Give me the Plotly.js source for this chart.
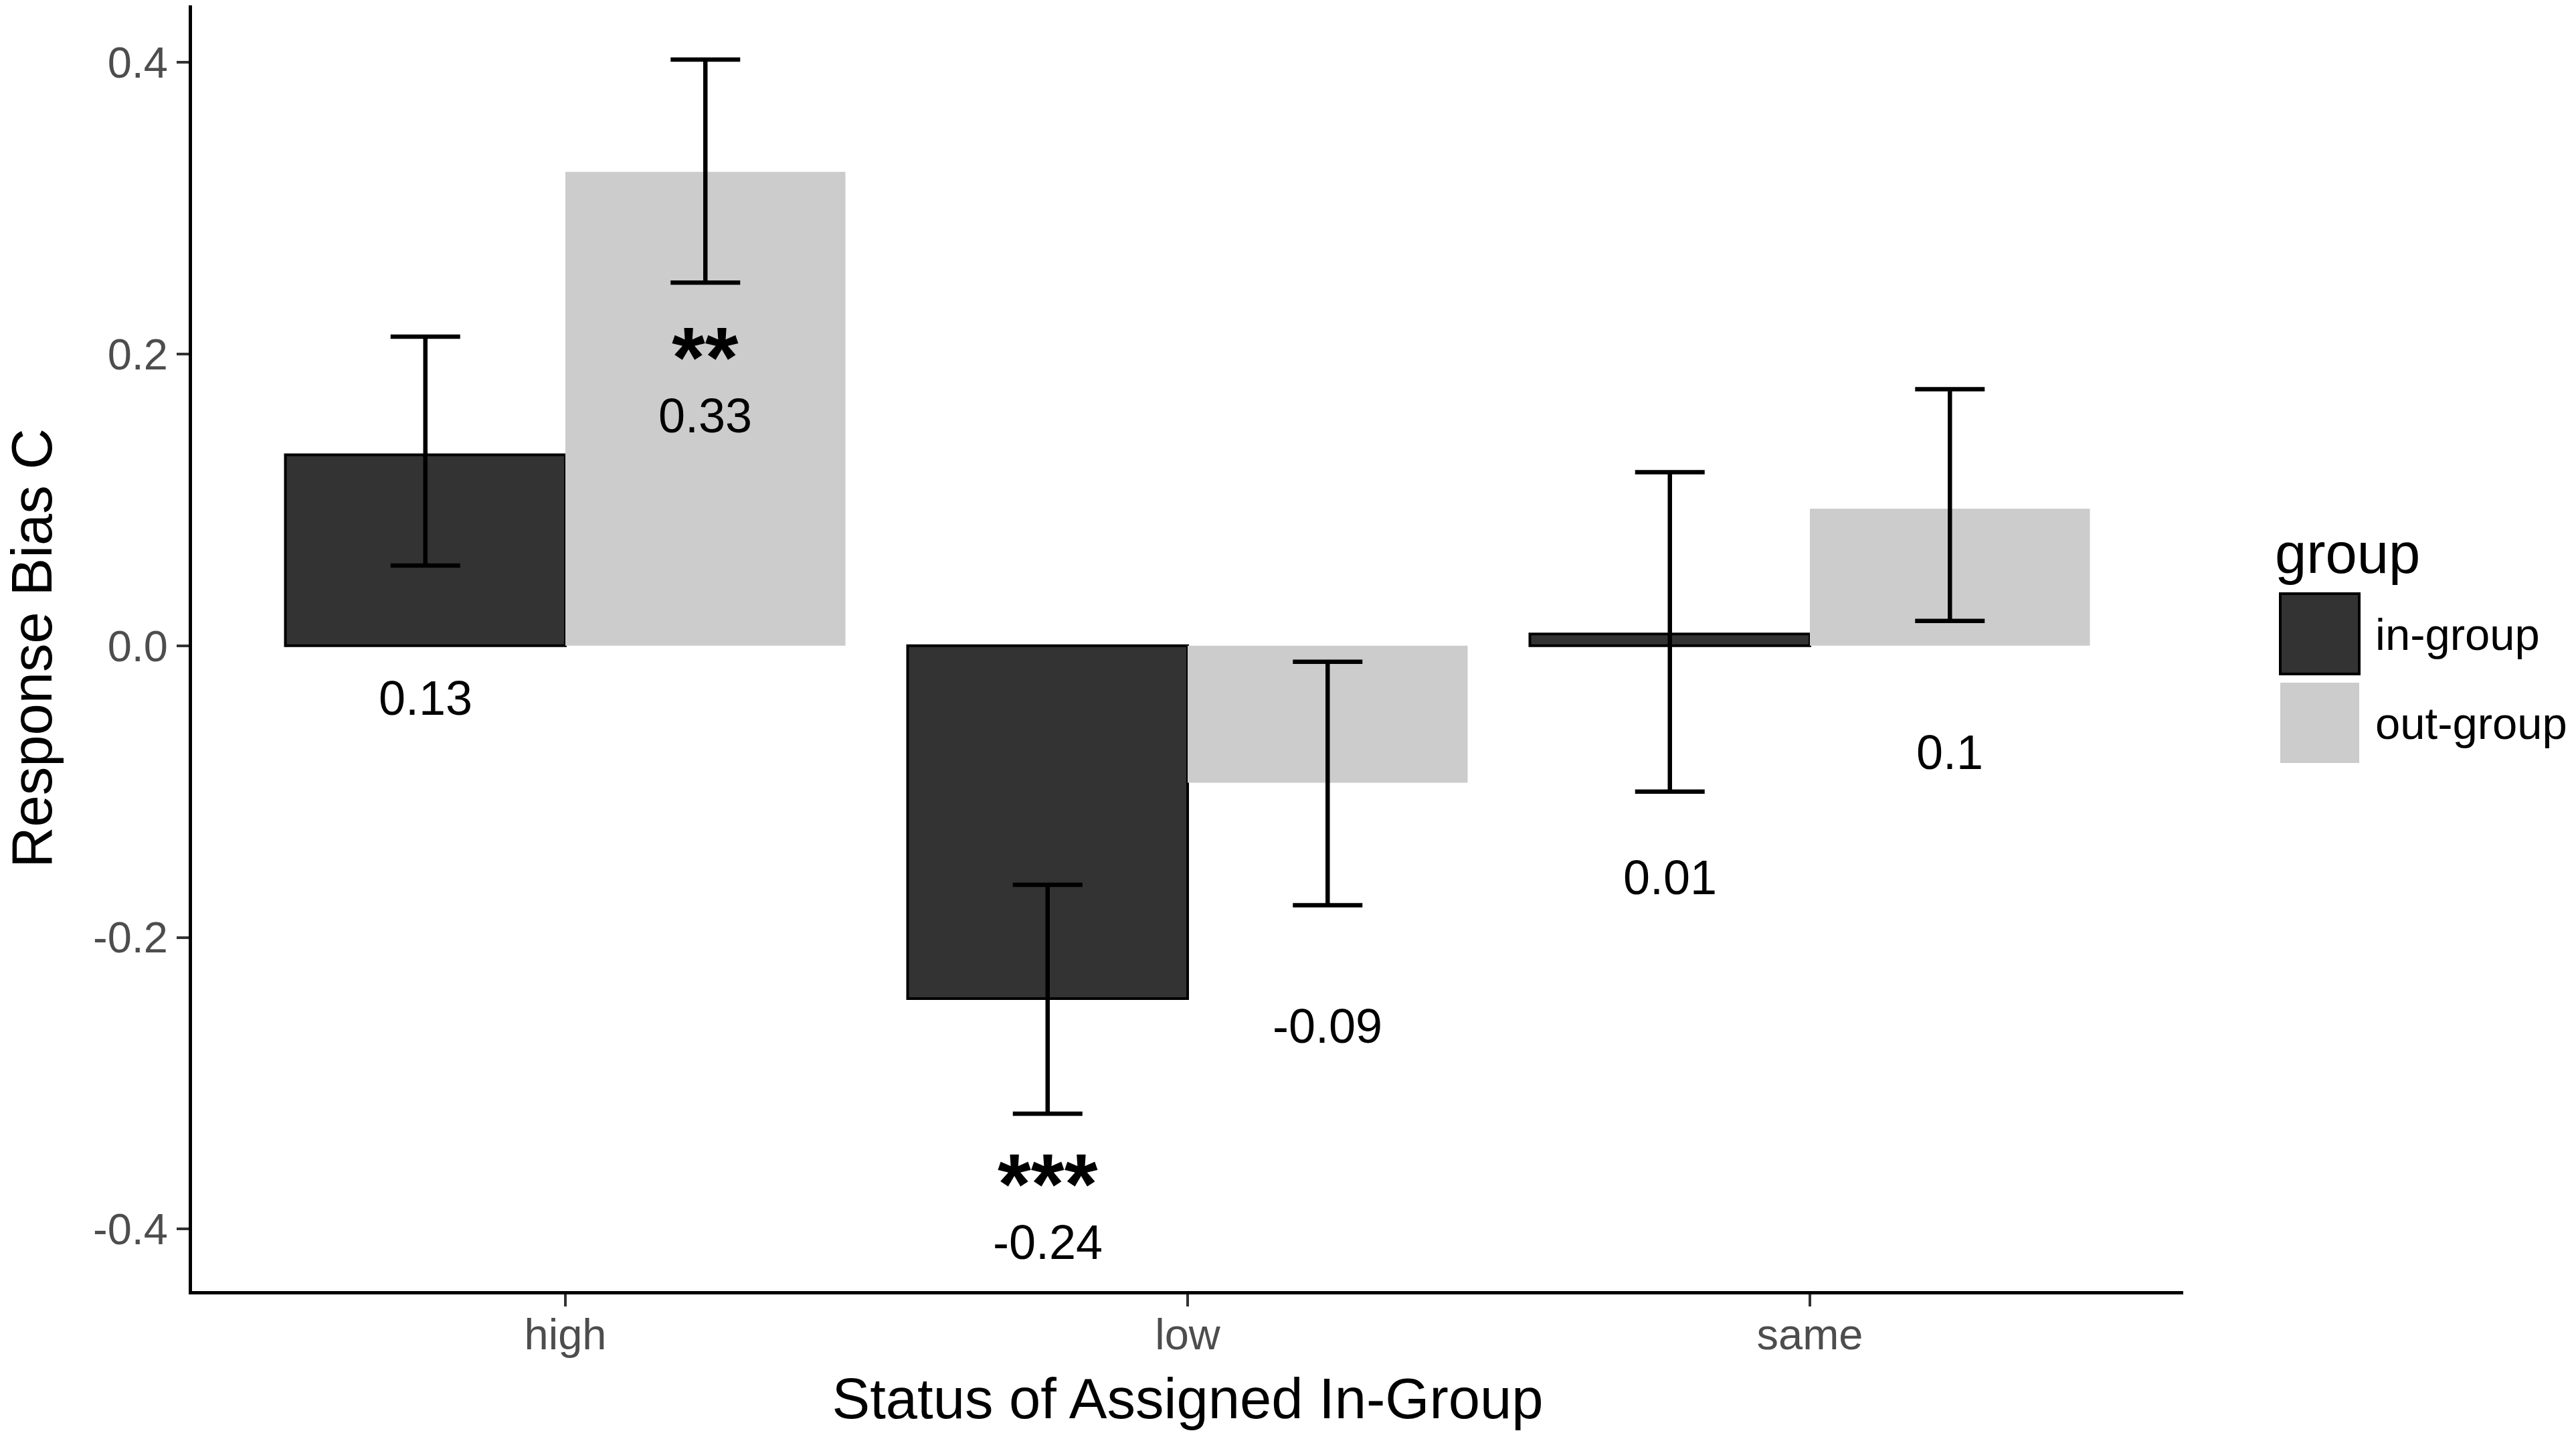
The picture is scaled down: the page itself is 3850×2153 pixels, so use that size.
<!DOCTYPE html>
<html>
<head>
<meta charset="utf-8">
<script src="https://cdn.plot.ly/plotly-3.0.1.min.js"></script>
<style>
  html, body { margin: 0; padding: 0; background: #fff; }
  #chart { width: 3850px; height: 2153px; }
</style>
</head>
<body>
<div id="chart"></div>
<script>
// values
const categories = ['high', 'low', 'same'];
const groupNames = ['in-group', 'out-group'];

const inGroupMean = [0.131, -0.242, 0.008];
const inGroupUpper = [0.212, -0.164, 0.119];
const inGroupLower = [0.055, -0.321, -0.100];
const inGroupLabels = ['0.13', '-0.24', '0.01'];
const inGroupStars = ['', '***', ''];

const outGroupMean = [0.325, -0.094, 0.094];
const outGroupUpper = [0.402, -0.011, 0.176];
const outGroupLower = [0.249, -0.178, 0.017];
const outGroupLabels = ['0.33', '-0.09', '0.1'];
const outGroupStars = ['**', '', ''];

const yTicks = [-0.4, -0.2, 0.0, 0.2, 0.4];

const W = 3850, H = 2153;
const margin = {l: 287, r: 587, t: 8, b: 224};
const plotW = W - margin.l - margin.r;
const plotH = H - margin.t - margin.b;
const font = 'Liberation Sans, Arial, sans-serif';
const darkFill = '#333333';
const lightFill = '#cccccc';
const barWidth = 0.45;

function pxX(x) { return (x - margin.l) / plotW; }
function pxY(y) { return (H - margin.b - y) / plotH; }

function errorBars(mean, upper, lower) {
  return {
    type: 'data',
    symmetric: false,
    array: mean.map((m, i) => upper[i] - m),
    arrayminus: mean.map((m, i) => m - lower[i]),
    color: '#000',
    thickness: 6.5,
    width: 52
  };
}

const traces = [
  {
    type: 'bar',
    name: groupNames[0],
    x: categories,
    y: inGroupMean,
    marker: {color: darkFill, line: {color: '#000', width: 4}},
    error_y: errorBars(inGroupMean, inGroupUpper, inGroupLower),
    hoverinfo: 'x+y'
  },
  {
    type: 'bar',
    name: groupNames[1],
    x: categories,
    y: outGroupMean,
    marker: {color: lightFill, line: {width: 0}},
    error_y: errorBars(outGroupMean, outGroupUpper, outGroupLower),
    hoverinfo: 'x+y'
  }
];

// value labels sit a fixed distance below each mean, stars just above them
const labelDrop = 0.167;
const starLift = 0.04;
const annotations = [];
function addLabels(mean, labels, stars, shift) {
  mean.forEach((m, i) => {
    annotations.push({
      x: i + shift, y: m - labelDrop, xref: 'x', yref: 'y',
      text: labels[i], showarrow: false,
      font: {family: font, size: 72, color: '#000'}
    });
    if (stars[i]) {
      // anchor on the box bottom so the tall star box clears the number below
      annotations.push({
        x: i + shift, y: m - labelDrop + starLift, xref: 'x', yref: 'y',
        text: '<b>' + stars[i] + '</b>', showarrow: false, yanchor: 'middle',
        font: {family: font, size: 128, color: '#000'}
      });
    }
  });
}
addLabels(inGroupMean, inGroupLabels, inGroupStars, -barWidth / 2);
addLabels(outGroupMean, outGroupLabels, outGroupStars, barWidth / 2);

// legend drawn by hand so the keys can be as large as the original
const keyLeft = 3408, keyRight = 3526;
const keyRows = [[887, 1007], [1020, 1140]];
const shapes = [
  {type: 'rect', xref: 'paper', yref: 'paper',
   x0: pxX(keyLeft), x1: pxX(keyRight), y0: pxY(keyRows[0][1]), y1: pxY(keyRows[0][0]),
   fillcolor: darkFill, line: {color: '#000', width: 4}},
  {type: 'rect', xref: 'paper', yref: 'paper',
   x0: pxX(keyLeft), x1: pxX(keyRight), y0: pxY(keyRows[1][1]), y1: pxY(keyRows[1][0]),
   fillcolor: lightFill, line: {width: 0}}
];
annotations.push({
  xref: 'paper', yref: 'paper', x: pxX(3398), y: pxY(826),
  xanchor: 'left', yanchor: 'middle', showarrow: false,
  text: 'group', font: {family: font, size: 85, color: '#000'}
});
groupNames.forEach((g, i) => {
  annotations.push({
    xref: 'paper', yref: 'paper', x: pxX(3548), y: pxY((keyRows[i][0] + keyRows[i][1]) / 2),
    xanchor: 'left', yanchor: 'middle', showarrow: false,
    text: g, font: {family: font, size: 67, color: '#000'}
  });
});

const layout = {
  width: W,
  height: H,
  margin: margin,
  paper_bgcolor: '#fff',
  plot_bgcolor: '#fff',
  barmode: 'group',
  bargap: 0.1,
  bargroupgap: 0,
  showlegend: false,
  font: {family: font, color: '#000'},
  xaxis: {
    type: 'category',
    range: [-0.6, 2.6],
    showgrid: false,
    zeroline: false,
    showline: true,
    linecolor: '#000',
    linewidth: 5,
    ticks: 'outside',
    ticklen: 18,
    tickwidth: 4,
    tickcolor: '#333',
    ticklabelstandoff: -14,
    tickfont: {family: font, size: 65, color: '#4d4d4d'},
    title: {text: 'Status of Assigned In-Group', font: {family: font, size: 85, color: '#000'}, standoff: 32}
  },
  yaxis: {
    range: [-0.4426, 0.4392],
    tickvals: yTicks,
    ticktext: yTicks.map(v => v.toFixed(1)),
    showgrid: false,
    zeroline: false,
    showline: true,
    linecolor: '#000',
    linewidth: 5,
    ticks: 'outside',
    ticklen: 18,
    tickwidth: 4,
    tickcolor: '#333',
    tickfont: {family: font, size: 65, color: '#4d4d4d'},
    title: {text: 'Response Bias C', font: {family: font, size: 85, color: '#000'}, standoff: 44}
  },
  annotations: annotations,
  shapes: shapes
};

Plotly.newPlot('chart', traces, layout, {displayModeBar: false, staticPlot: true});
</script>
</body>
</html>
